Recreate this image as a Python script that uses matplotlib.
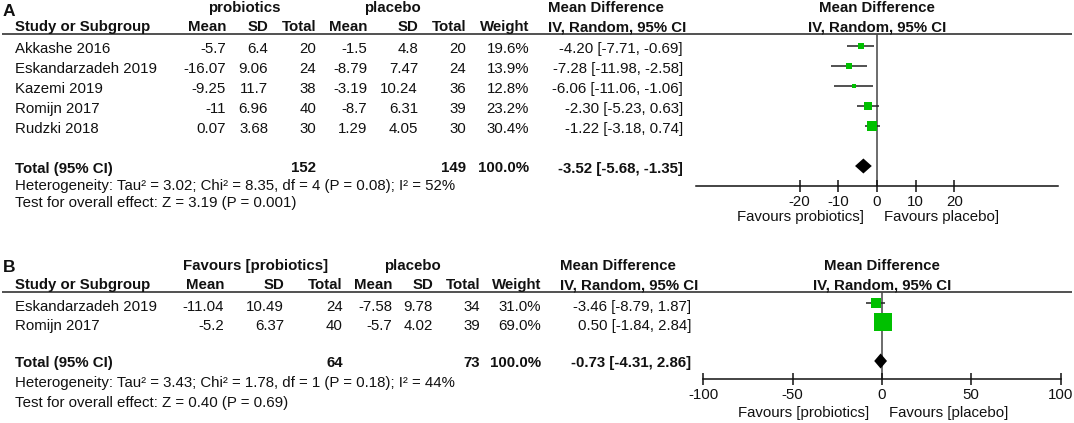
import matplotlib
matplotlib.use("Agg")
import matplotlib.pyplot as plt

plt.rcParams['font.family'] = ['Liberation Sans', 'DejaVu Sans']

# ---------------- data: panel A ----------------
studies_A = ["Akkashe 2016", "Eskandarzadeh 2019", "Kazemi 2019", "Romijn 2017", "Rudzki 2018"]
pro_mean_A = [-5.7, -16.07, -9.25, -11, 0.07]
pro_sd_A = [6.4, 9.06, 11.7, 6.96, 3.68]
pro_n_A = [20, 24, 38, 40, 30]
pla_mean_A = [-1.5, -8.79, -3.19, -8.7, 1.29]
pla_sd_A = [4.8, 7.47, 10.24, 6.31, 4.05]
pla_n_A = [20, 24, 36, 39, 30]
weight_A = [19.6, 13.9, 12.8, 23.2, 30.4]
md_A = [-4.20, -7.28, -6.06, -2.30, -1.22]
lo_A = [-7.71, -11.98, -11.06, -5.23, -3.18]
hi_A = [-0.69, -2.58, -1.06, 0.63, 0.74]
total_A = dict(n_pro=152, n_pla=149, w=100.0, md=-3.52, lo=-5.68, hi=-1.35)
het_A = dict(tau2=3.02, chi2=8.35, df=4, p="0.08", i2=52)
z_A = dict(z=3.19, p="0.001")
ticks_A = [-20, -10, 0, 10, 20]
xlim_A = (-46.8, 46.8)
fav_A = ("Favours probiotics]", "Favours placebo]")
grp_A = ("probiotics", "placebo")

# ---------------- data: panel B ----------------
studies_B = ["Eskandarzadeh 2019", "Romijn 2017"]
pro_mean_B = [-11.04, -5.2]
pro_sd_B = [10.49, 6.37]
pro_n_B = [24, 40]
pla_mean_B = [-7.58, -5.7]
pla_sd_B = [9.78, 4.02]
pla_n_B = [34, 39]
weight_B = [31.0, 69.0]
md_B = [-3.46, 0.50]
lo_B = [-8.79, -1.84]
hi_B = [1.87, 2.84]
total_B = dict(n_pro=64, n_pla=73, w=100.0, md=-0.73, lo=-4.31, hi=2.86)
het_B = dict(tau2=3.43, chi2=1.78, df=1, p="0.18", i2=44)
z_B = dict(z=0.40, p="0.69")
ticks_B = [-100, -50, 0, 50, 100]
xlim_B = (-100, 100)
fav_B = ("Favours [probiotics]", "Favours [placebo]")
grp_B = ("Favours [probiotics]", "placebo")

# ---------------- figure ----------------
W, H = 1074, 423
fig = plt.figure(figsize=(W / 100, H / 100), dpi=100)
bg = fig.add_axes([0, 0, 1, 1])
bg.set_xlim(0, W)
bg.set_ylim(H, 0)
bg.axis('off')

FS = 10.8
TXT = '#111111'
GREEN = '#00c000'


def t(x, y, s, ha='left', bold=False, size=FS, va='center'):
    bg.text(x, y, s, ha=ha, va=va, fontsize=size, color=TXT,
            fontweight='bold' if bold else 'normal')


def fmt(v):
    return f"{v:g}"


def panel(label, y_lab, y_hdr1, y_hdr2, y_line, row_y, y_total, y_het, y_test,
          cols, grp, grp_x, md_left, fx, axis_y, xlim, ticks, fav, fav_y,
          studies, pm, ps, pn, cm, cs, cn, wt, md, lo, hi, tot, het, zz,
          mk_off, dia_off):
    (c_pm, c_ps, c_pn, c_cm, c_cs, c_cn, c_w, c_md) = cols
    t(3, y_lab, label, bold=True, size=12.5)
    t(grp_x[0], y_hdr1, grp[0], ha='center', bold=True)
    t(grp_x[1], y_hdr1, grp[1], ha='center', bold=True)
    t(md_left, y_hdr1, "Mean Difference", bold=True)
    t(15, y_hdr2, "Study or Subgroup", bold=True)
    for x, s in zip([c_pm, c_ps, c_pn, c_cm, c_cs, c_cn, c_w],
                    ["Mean", "SD", "Total", "Mean", "SD", "Total", "Weight"]):
        t(x, y_hdr2, s, ha='right', bold=True)
    t(md_left, y_hdr2, "IV, Random, 95% CI", bold=True)
    bg.plot([2, 1072], [y_line, y_line], color='#222222', lw=1.1,
            solid_capstyle='butt')

    for i, name in enumerate(studies):
        y = row_y[i]
        t(15, y, name)
        t(c_pm, y, fmt(pm[i]), ha='right')
        t(c_ps, y, fmt(ps[i]), ha='right')
        t(c_pn, y, str(pn[i]), ha='right')
        t(c_cm, y, fmt(cm[i]), ha='right')
        t(c_cs, y, fmt(cs[i]), ha='right')
        t(c_cn, y, str(cn[i]), ha='right')
        t(c_w, y, f"{wt[i]:.1f}%", ha='right')
        t(c_md, y, f"{md[i]:.2f} [{lo[i]:.2f}, {hi[i]:.2f}]", ha='right')

    t(15, y_total, "Total (95% CI)", bold=True)
    t(c_pn, y_total, str(tot['n_pro']), ha='right', bold=True)
    t(c_cn, y_total, str(tot['n_pla']), ha='right', bold=True)
    t(c_w, y_total, f"{tot['w']:.1f}%", ha='right', bold=True)
    t(c_md, y_total, f"{tot['md']:.2f} [{tot['lo']:.2f}, {tot['hi']:.2f}]",
      ha='right', bold=True)
    t(15, y_het, f"Heterogeneity: Tau\u00b2 = {het['tau2']:.2f}; Chi\u00b2 = {het['chi2']:.2f}, "
                 f"df = {het['df']} (P = {het['p']}); I\u00b2 = {het['i2']}%")
    t(15, y_test, f"Test for overall effect: Z = {zz['z']:.2f} (P = {zz['p']})")

    # forest axes
    left, right = fx
    ax = fig.add_axes([left / W, 1 - axis_y / H, (right - left) / W, (axis_y - y_line) / H])
    ax.set_xlim(*xlim)
    ax.set_ylim(axis_y, y_line)
    ax.patch.set_alpha(0)
    for s in ['top', 'left', 'right']:
        ax.spines[s].set_visible(False)
    ax.spines['bottom'].set_linewidth(1.1)
    ax.spines['bottom'].set_color('#111111')
    ax.set_yticks([])
    ax.set_xticks(ticks)
    ax.set_xticklabels([str(v) for v in ticks])
    ax.tick_params(axis='x', direction='inout', length=8, width=1.1,
                   labelsize=FS, pad=2.5, colors='#111111')
    ax.axvline(0, color='#444444', lw=1.1, zorder=1)
    for i in range(len(studies)):
        y = row_y[i] + mk_off
        ax.plot([lo[i], hi[i]], [y, y], color='#222222', lw=1.1, zorder=2,
                solid_capstyle='butt')
        side_px = 0.72 * wt[i] ** 0.75
        ax.plot([md[i]], [y], marker='s', color=GREEN, markersize=side_px * 0.72,
                markeredgewidth=0, zorder=3, linestyle='none')
    yd = y_total + dia_off
    hh = 7.5
    ax.fill([tot['lo'], tot['md'], tot['hi'], tot['md']],
            [yd, yd - hh, yd, yd + hh], color='black', zorder=3, lw=0)
    # forest header
    zx = left + (0 - xlim[0]) / (xlim[1] - xlim[0]) * (right - left)
    t(zx, y_hdr1, "Mean Difference", ha='center', bold=True)
    t(zx, y_hdr2, "IV, Random, 95% CI", ha='center', bold=True)
    t(zx - 13, fav_y, fav[0], ha='right')
    t(zx + 7, fav_y, fav[1], ha='left')


rows_A = [49, 69, 89, 109, 129]
panel("A", 11, 8, 27, 34, rows_A, 168.5, 186, 203,
      (226, 268, 316, 367, 418, 466, 529, 683), grp_A, (244, 392), 548,
      (696, 1058), 185.7, xlim_A, ticks_A, fav_A, 216.5,
      studies_A, pro_mean_A, pro_sd_A, pro_n_A, pla_mean_A, pla_sd_A, pla_n_A,
      weight_A, md_A, lo_A, hi_A, total_A, het_A, z_A, -3.5, -2.5)

rows_B = [307, 326]
panel("B", 267, 266, 285, 291.7, rows_B, 363, 383, 403,
      (224, 284, 343, 392, 433, 480, 541, 691), grp_B, (256, 412), 560,
      (703.3, 1060.5), 379.3, xlim_B, ticks_B, fav_B, 412.5,
      studies_B, pro_mean_B, pro_sd_B, pro_n_B, pla_mean_B, pla_sd_B, pla_n_B,
      weight_B, md_B, lo_B, hi_B, total_B, het_B, z_B, -4, -2)

fig.savefig("out.png", dpi=100)
